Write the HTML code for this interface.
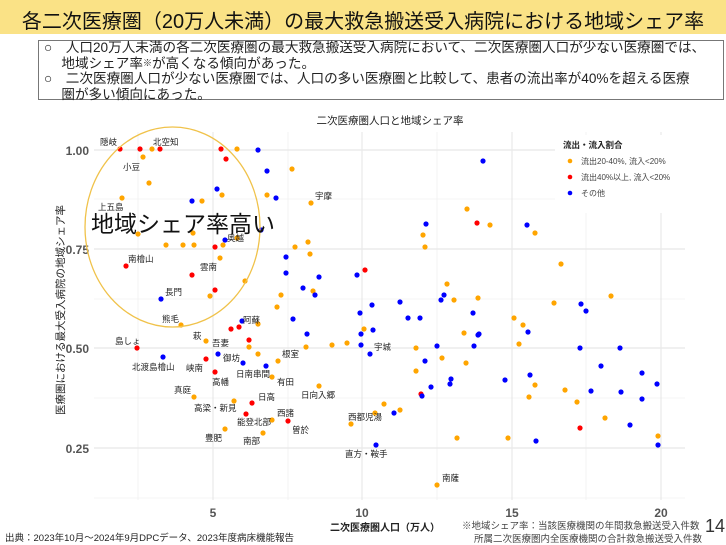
<!DOCTYPE html>
<html><head><meta charset="utf-8"><style>
body{margin:0;width:726px;height:545px;background:#fff;font-family:"Liberation Sans","Noto Sans CJK JP",sans-serif;overflow:hidden;position:relative}
.t{position:absolute;white-space:nowrap}
</style></head><body>
<div class="t" style="left:0;top:0;width:726px;height:34px;background:#fae286"></div>
<div class="t" style="left:0;top:5px;width:726px;text-align:center;font-size:20px;color:#111">各二次医療圏（20万人未満）の最大救急搬送受入病院における地域シェア率</div>
<div class="t" style="left:38px;top:40px;width:686px;height:60px;border:1px solid #777;box-sizing:border-box"></div>
<div class="t" style="left:44px;top:40px;font-size:13.6px;line-height:15.5px;color:#222">○　人口20万人未満の各二次医療圏の最大救急搬送受入病院において、二次医療圏人口が少ない医療圏では、<br>　 地域シェア率<span style="font-size:9px;vertical-align:top">※</span>が高くなる傾向があった。<br>○　二次医療圏人口が少ない医療圏では、人口の多い医療圏と比較して、患者の流出率が40%を超える医療<br>　 圏が多い傾向にあった。</div>
<svg width="726" height="545" style="position:absolute;left:0;top:0" font-family="Liberation Sans,Noto Sans CJK JP,sans-serif">
<g stroke="#f0f0f0" stroke-width="0.8">
<line x1="138" y1="132" x2="138" y2="500"/><line x1="288" y1="132" x2="288" y2="500"/><line x1="437" y1="132" x2="437" y2="500"/><line x1="586" y1="132" x2="586" y2="500"/>
<line x1="94" y1="199" x2="685" y2="199"/><line x1="94" y1="299" x2="685" y2="299"/><line x1="94" y1="398" x2="685" y2="398"/><line x1="94" y1="498" x2="685" y2="498"/>
</g>
<g stroke="#e8e8e8" stroke-width="1.2">
<line x1="213" y1="132" x2="213" y2="500"/><line x1="362" y1="132" x2="362" y2="500"/><line x1="512" y1="132" x2="512" y2="500"/><line x1="661" y1="132" x2="661" y2="500"/>
<line x1="94" y1="150" x2="685" y2="150"/><line x1="94" y1="249" x2="685" y2="249"/><line x1="94" y1="348" x2="685" y2="348"/><line x1="94" y1="448" x2="685" y2="448"/>
</g>
<rect x="555" y="135" width="130" height="78" fill="#fff"/>
<g font-size="12" fill="#555" font-weight="bold" text-anchor="end">
<text x="89" y="155">1.00</text><text x="89" y="254">0.75</text><text x="89" y="353">0.50</text><text x="89" y="453">0.25</text></g>
<g font-size="12" fill="#555" font-weight="bold" text-anchor="middle">
<text x="213" y="517">5</text><text x="362" y="517">10</text><text x="512" y="517">15</text><text x="661" y="517">20</text></g>
<text x="390" y="124" font-size="10.5" text-anchor="middle" fill="#222">二次医療圏人口と地域シェア率</text>
<text x="385" y="531" font-size="10" font-weight="bold" text-anchor="middle" fill="#222">二次医療圏人口（万人）</text>
<text transform="translate(64,310) rotate(-90)" font-size="10.5" text-anchor="middle" fill="#222">医療圏における最大受入病院の地域シェア率</text>
<g fill="#ffa500">
<circle cx="152" cy="149" r="2.6"/><circle cx="237" cy="149" r="2.6"/><circle cx="143" cy="157" r="2.6"/><circle cx="292" cy="169" r="2.6"/><circle cx="149" cy="183" r="2.6"/><circle cx="222" cy="195" r="2.6"/><circle cx="267" cy="195" r="2.6"/><circle cx="122" cy="198" r="2.6"/><circle cx="202" cy="201" r="2.6"/><circle cx="311" cy="203" r="2.6"/><circle cx="138" cy="234" r="2.6"/><circle cx="193" cy="233" r="2.6"/><circle cx="237" cy="238" r="2.6"/><circle cx="166" cy="245" r="2.6"/><circle cx="183" cy="245" r="2.6"/><circle cx="194" cy="245" r="2.6"/><circle cx="223" cy="245" r="2.6"/><circle cx="295" cy="247" r="2.6"/><circle cx="308" cy="242" r="2.6"/><circle cx="220" cy="258" r="2.6"/><circle cx="310" cy="254" r="2.6"/><circle cx="245" cy="281" r="2.6"/><circle cx="313" cy="291" r="2.6"/><circle cx="210" cy="296" r="2.6"/><circle cx="281" cy="295" r="2.6"/><circle cx="277" cy="307" r="2.6"/><circle cx="181" cy="325" r="2.6"/><circle cx="258" cy="324" r="2.6"/><circle cx="364" cy="329" r="2.6"/><circle cx="206" cy="341" r="2.6"/><circle cx="249" cy="347" r="2.6"/><circle cx="258" cy="354" r="2.6"/><circle cx="278" cy="361" r="2.6"/><circle cx="306" cy="347" r="2.6"/><circle cx="332" cy="345" r="2.6"/><circle cx="347" cy="343" r="2.6"/><circle cx="272" cy="377" r="2.6"/><circle cx="319" cy="386" r="2.6"/><circle cx="194" cy="397" r="2.6"/><circle cx="234" cy="401" r="2.6"/><circle cx="272" cy="420" r="2.6"/><circle cx="225" cy="429" r="2.6"/><circle cx="263" cy="433" r="2.6"/><circle cx="384" cy="404" r="2.6"/><circle cx="375" cy="413" r="2.6"/><circle cx="400" cy="410" r="2.6"/><circle cx="351" cy="424" r="2.6"/><circle cx="437" cy="485" r="2.6"/><circle cx="416" cy="348" r="2.6"/><circle cx="442" cy="358" r="2.6"/><circle cx="416" cy="371" r="2.6"/><circle cx="457" cy="438" r="2.6"/><circle cx="464" cy="333" r="2.6"/><circle cx="466" cy="363" r="2.6"/><circle cx="467" cy="209" r="2.6"/><circle cx="490" cy="225" r="2.6"/><circle cx="423" cy="235" r="2.6"/><circle cx="425" cy="247" r="2.6"/><circle cx="535" cy="233" r="2.6"/><circle cx="561" cy="264" r="2.6"/><circle cx="447" cy="284" r="2.6"/><circle cx="454" cy="300" r="2.6"/><circle cx="478" cy="298" r="2.6"/><circle cx="554" cy="303" r="2.6"/><circle cx="611" cy="296" r="2.6"/><circle cx="514" cy="318" r="2.6"/><circle cx="523" cy="325" r="2.6"/><circle cx="519" cy="344" r="2.6"/><circle cx="535" cy="385" r="2.6"/><circle cx="565" cy="390" r="2.6"/><circle cx="529" cy="397" r="2.6"/><circle cx="577" cy="402" r="2.6"/><circle cx="605" cy="418" r="2.6"/><circle cx="658" cy="436" r="2.6"/><circle cx="508" cy="438" r="2.6"/>
</g>
<g fill="#ff0000">
<circle cx="120" cy="149" r="2.6"/><circle cx="140" cy="149" r="2.6"/><circle cx="160" cy="149" r="2.6"/><circle cx="221" cy="149" r="2.6"/><circle cx="226" cy="159" r="2.6"/><circle cx="215" cy="247" r="2.6"/><circle cx="126" cy="266" r="2.6"/><circle cx="192" cy="275" r="2.6"/><circle cx="365" cy="270" r="2.6"/><circle cx="215" cy="290" r="2.6"/><circle cx="239" cy="327" r="2.6"/><circle cx="231" cy="329" r="2.6"/><circle cx="137" cy="348" r="2.6"/><circle cx="206" cy="359" r="2.6"/><circle cx="249" cy="340" r="2.6"/><circle cx="215" cy="372" r="2.6"/><circle cx="252" cy="403" r="2.6"/><circle cx="246" cy="414" r="2.6"/><circle cx="288" cy="421" r="2.6"/><circle cx="421" cy="394" r="2.6"/><circle cx="477" cy="223" r="2.6"/><circle cx="580" cy="428" r="2.6"/>
</g>
<g fill="#0000ff">
<circle cx="258" cy="150" r="2.6"/><circle cx="267" cy="171" r="2.6"/><circle cx="217" cy="189" r="2.6"/><circle cx="276" cy="198" r="2.6"/><circle cx="192" cy="201" r="2.6"/><circle cx="225" cy="240" r="2.6"/><circle cx="261" cy="230" r="2.6"/><circle cx="286" cy="257" r="2.6"/><circle cx="286" cy="273" r="2.6"/><circle cx="319" cy="277" r="2.6"/><circle cx="357" cy="275" r="2.6"/><circle cx="303" cy="288" r="2.6"/><circle cx="315" cy="295" r="2.6"/><circle cx="161" cy="299" r="2.6"/><circle cx="372" cy="305" r="2.6"/><circle cx="360" cy="313" r="2.6"/><circle cx="293" cy="319" r="2.6"/><circle cx="242" cy="321" r="2.6"/><circle cx="307" cy="334" r="2.6"/><circle cx="361" cy="334" r="2.6"/><circle cx="373" cy="330" r="2.6"/><circle cx="163" cy="357" r="2.6"/><circle cx="218" cy="354" r="2.6"/><circle cx="243" cy="363" r="2.6"/><circle cx="266" cy="366" r="2.6"/><circle cx="361" cy="345" r="2.6"/><circle cx="370" cy="354" r="2.6"/><circle cx="394" cy="413" r="2.6"/><circle cx="376" cy="445" r="2.6"/><circle cx="437" cy="346" r="2.6"/><circle cx="425" cy="361" r="2.6"/><circle cx="431" cy="387" r="2.6"/><circle cx="451" cy="379" r="2.6"/><circle cx="450" cy="384" r="2.6"/><circle cx="422" cy="396" r="2.6"/><circle cx="478" cy="335" r="2.6"/><circle cx="474" cy="346" r="2.6"/><circle cx="483" cy="161" r="2.6"/><circle cx="426" cy="224" r="2.6"/><circle cx="527" cy="225" r="2.6"/><circle cx="444" cy="295" r="2.6"/><circle cx="441" cy="300" r="2.6"/><circle cx="581" cy="304" r="2.6"/><circle cx="586" cy="311" r="2.6"/><circle cx="400" cy="302" r="2.6"/><circle cx="408" cy="318" r="2.6"/><circle cx="420" cy="318" r="2.6"/><circle cx="473" cy="313" r="2.6"/><circle cx="528" cy="332" r="2.6"/><circle cx="479" cy="334" r="2.6"/><circle cx="580" cy="348" r="2.6"/><circle cx="620" cy="348" r="2.6"/><circle cx="601" cy="366" r="2.6"/><circle cx="642" cy="373" r="2.6"/><circle cx="505" cy="380" r="2.6"/><circle cx="530" cy="375" r="2.6"/><circle cx="657" cy="384" r="2.6"/><circle cx="591" cy="391" r="2.6"/><circle cx="621" cy="392" r="2.6"/><circle cx="642" cy="399" r="2.6"/><circle cx="630" cy="425" r="2.6"/><circle cx="658" cy="445" r="2.6"/><circle cx="536" cy="441" r="2.6"/>
</g>
<g font-size="8.5" fill="#222">
<text x="100" y="145">隠岐</text><text x="153" y="145">北空知</text><text x="123" y="170">小豆</text><text x="98" y="210">上五島</text><text x="315" y="199">宇摩</text><text x="227" y="241">奥越</text><text x="128" y="262">南檜山</text><text x="200" y="270">雲南</text><text x="165" y="295">長門</text><text x="162" y="322">熊毛</text><text x="243" y="323">阿蘇</text>
<text x="115" y="344">島しょ</text><text x="193" y="339">萩</text><text x="212" y="346">吾妻</text><text x="132" y="370">北渡島檜山</text><text x="186" y="371">峡南</text><text x="223" y="361">御坊</text><text x="282" y="357">根室</text><text x="212" y="385">高幡</text><text x="236" y="377">日南串間</text><text x="277" y="385">有田</text><text x="374" y="350">宇城</text><text x="174" y="393">真庭</text><text x="258" y="400">日高</text><text x="301" y="398">日向入郷</text><text x="194" y="411">高梁・新見</text><text x="277" y="416">西諸</text><text x="237" y="425">能登北部</text><text x="348" y="420">西都児湯</text><text x="292" y="433">曽於</text><text x="205" y="441">豊肥</text><text x="243" y="444">南部</text><text x="345" y="457">直方・鞍手</text><text x="442" y="481">南薩</text>
</g>
<ellipse cx="172.5" cy="227" rx="87.5" ry="100" fill="none" stroke="#f0c24a" stroke-width="1.3"/>
<text x="91" y="232" font-size="23" fill="#111">地域シェア率高い</text>
<text x="563" y="148" font-size="8.5" font-weight="bold" fill="#222">流出・流入割合</text>
<circle cx="570" cy="161" r="2.3" fill="#ffa500"/><text x="581" y="164" font-size="8" fill="#444">流出20-40%, 流入&lt;20%</text>
<circle cx="570" cy="177" r="2.3" fill="#ff0000"/><text x="581" y="180" font-size="8" fill="#444">流出40%以上, 流入&lt;20%</text>
<circle cx="570" cy="193" r="2.3" fill="#0000ff"/><text x="581" y="196" font-size="8" fill="#444">その他</text>
<text x="5" y="541" font-size="9.5" fill="#222">出典：2023年10月～2024年9月DPCデータ、2023年度病床機能報告</text>
<text x="462" y="529" font-size="9.5" fill="#444">※地域シェア率：当該医療機関の年間救急搬送受入件数</text>
<text x="474" y="542" font-size="9.5" fill="#444">所属二次医療圏内全医療機関の合計救急搬送受入件数</text>
<text x="705" y="532" font-size="18" fill="#333">14</text>
</svg>
</body></html>
